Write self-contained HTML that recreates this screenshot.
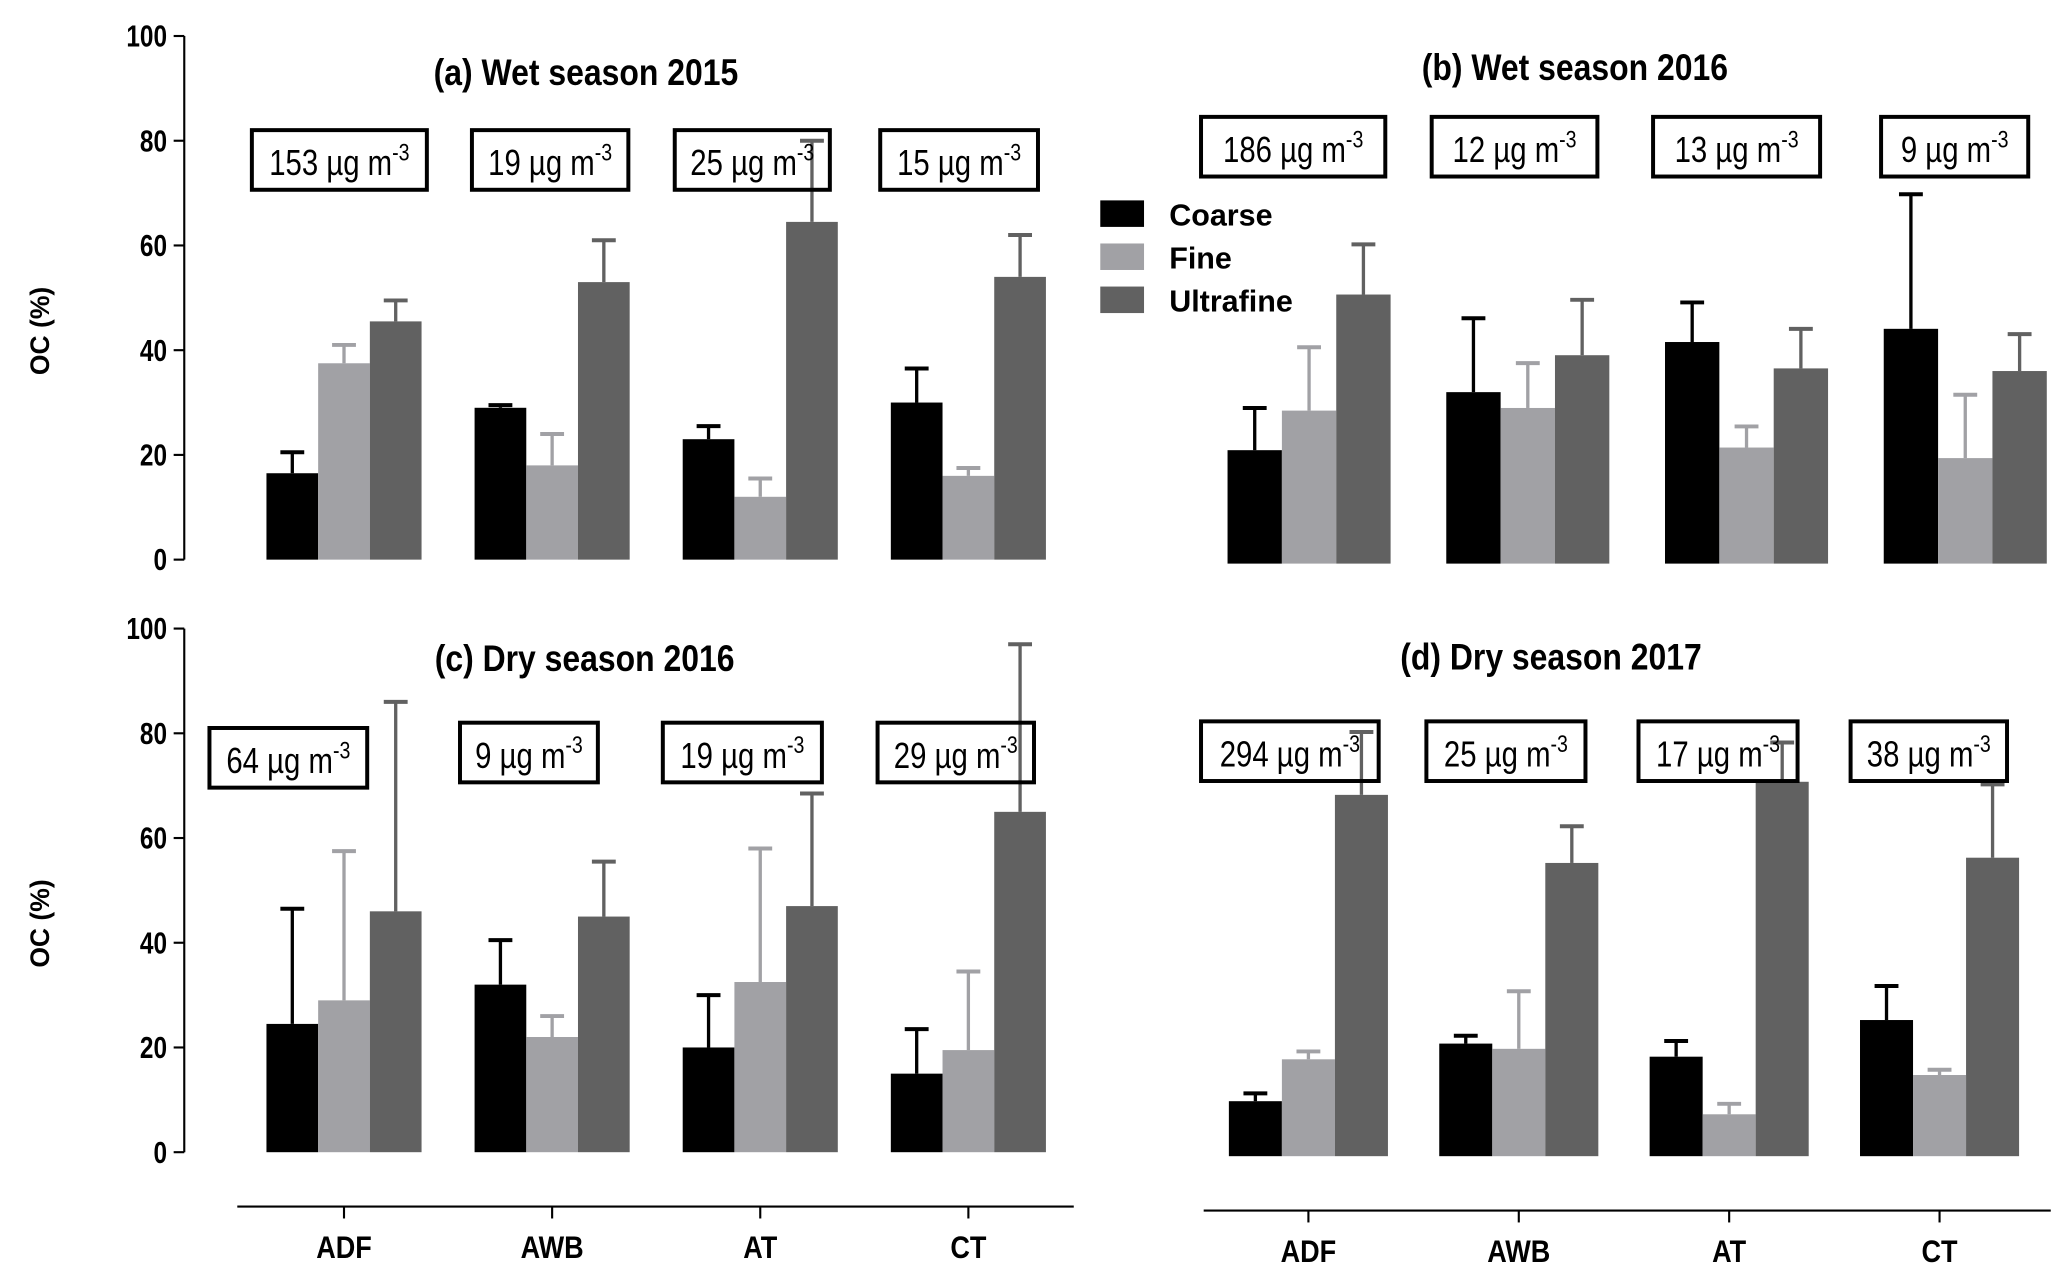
<!DOCTYPE html>
<html><head><meta charset="utf-8"><style>
html,body{margin:0;padding:0;background:#fff;}
svg{display:block;font-family:"Liberation Sans",Arial,sans-serif;}
</style></head><body>
<svg id="chart" width="2068" height="1281" viewBox="0 0 1560 966" xmlns="http://www.w3.org/2000/svg"></svg>
<script>
const categories = ["ADF","AWB","AT","CT"];
const seriesNames = ["Coarse","Fine","Ultrafine"];
const yTicks = [0,20,40,60,80,100];
// panel a: Wet season 2015
const aCoarse = [16.5,29,23,30];   const aCoarseErr = [20.5,29.5,25.5,36.5];
const aFine = [37.5,18,12,16];     const aFineErr = [41,24,15.5,17.5];
const aUltra = [45.5,53,64.5,54];  const aUltraErr = [49.5,61,80,62];
const aLabels = ["153","19","25","15"];
// panel b: Wet season 2016
const bCoarse = [21.5,32.5,42,44.5]; const bCoarseErr = [29.5,46.5,49.5,70];
const bFine = [29,29.5,22,20];       const bFineErr = [41,38,26,32];
const bUltra = [51,39.5,37,36.5];    const bUltraErr = [60.5,50,44.5,43.5];
const bLabels = ["186","12","13","9"];
// panel c: Dry season 2016
const cCoarse = [24.5,32,20,15];   const cCoarseErr = [46.5,40.5,30,23.5];
const cFine = [29,22,32.5,19.5];   const cFineErr = [57.5,26,58,34.5];
const cUltra = [46,45,47,65];      const cUltraErr = [86,55.5,68.5,97];
const cLabels = ["64","9","19","29"];
// panel d: Dry season 2017
const dCoarse = [10.5,21.5,19,26]; const dCoarseErr = [12,23,22,32.5];
const dFine = [18.5,20.5,8,15.5];  const dFineErr = [20,31.5,10,16.5];
const dUltra = [69,56,71.5,57];    const dUltraErr = [81,63,79,71];
const dLabels = ["294","25","17","38"];

const NS="http://www.w3.org/2000/svg";
const svg=document.getElementById('chart');
const colors=["#000000","#a1a1a5","#616161"];
function mk(tag,attrs,parent){const e=document.createElementNS(NS,tag);for(const k in attrs)e.setAttribute(k,attrs[k]);(parent||svg).appendChild(e);return e;}
function ntext(x,y,sx,attrs,parent){attrs.x=0;attrs.y=0;attrs.transform=`translate(${x},${y}) scale(${sx},1)`;return mk('text',attrs,parent);}

const panels=[
 {id:'a',title:'(a) Wet season 2015',tx:442,ty:64,y0:422,y100:27,x0:201,step:157,bw:39,vals:[aCoarse,aFine,aUltra],errs:[aCoarseErr,aFineErr,aUltraErr],labels:aLabels,
  boxes:[[190,98,132,45],[356,98,118,45],[509,98,117,45],[664,98,119,45]],axis:true,xaxis:null},
 {id:'b',title:'(b) Wet season  2016',tx:1188,ty:60,y0:425,y100:27,x0:926,step:165,bw:41,vals:[bCoarse,bFine,bUltra],errs:[bCoarseErr,bFineErr,bUltraErr],labels:bLabels,
  boxes:[[906,88,139,45],[1080,88,125,45],[1247,88,126,45],[1419,88,111,45]],axis:false,xaxis:null},
 {id:'c',title:'(c) Dry  season 2016',tx:441,ty:506,y0:869,y100:474,x0:201,step:157,bw:39,vals:[cCoarse,cFine,cUltra],errs:[cCoarseErr,cFineErr,cUltraErr],labels:cLabels,
  boxes:[[158,549,119,45],[347,545,104,45],[500,545,120,45],[662,545,118,45]],axis:true,xaxis:{y:910,x1:179,x2:810,ly:949}},
 {id:'d',title:'(d) Dry season  2017',tx:1170,ty:505,y0:872,y100:477,x0:927,step:158.7,bw:40,vals:[dCoarse,dFine,dUltra],errs:[dCoarseErr,dFineErr,dUltraErr],labels:dLabels,
  boxes:[[906,544,134,45],[1076,544,120,45],[1236,544,120,45],[1396,544,118,45]],axis:false,xaxis:{y:913,x1:908,x2:1547,ly:952}}
];

panels.forEach(p=>{
  const g=mk('g',{});
  
  
  const ys=v=>p.y0-(p.y0-p.y100)*v/100;
  const xs=(i,s)=>p.x0+i*p.step+s*p.bw;
  if(p.axis){
    const ax=mk('line',{x1:139,x2:139,y1:p.y100,y2:p.y0,stroke:'#000','stroke-width':1.6},g);
    
    
    yTicks.forEach(t=>{
      mk('line',{x1:131,x2:139,y1:ys(t),y2:ys(t),stroke:'#000','stroke-width':1.6},g);
      const tl=ntext(126,ys(t)+8,0.8,{'text-anchor':'end','font-size':23,'font-weight':'bold'},g);
      tl.textContent=t;
      
      
    });
    const yl=mk('text',{x:0,y:0,transform:`translate(37,${(p.y0+p.y100)/2+25}) rotate(-90)`,'text-anchor':'middle','font-size':20,'font-weight':'bold'},g);
    yl.textContent='OC  (%)';
    
    
  }
  categories.forEach((c,i)=>{
    for(let s=0;s<3;s++){
      const v=p.vals[s][i], e=p.errs[s][i];
      const cx=xs(i,s)+p.bw/2;
      const el=mk('line',{x1:cx,x2:cx,y1:ys(v),y2:ys(e),stroke:colors[s],'stroke-width':2.5},g);
      
      
      mk('line',{x1:cx-9,x2:cx+9,y1:ys(e),y2:ys(e),stroke:colors[s],'stroke-width':3},g);
      const r=mk('rect',{x:xs(i,s),y:ys(v),width:p.bw,height:p.y0-ys(v),fill:colors[s]},g);
      
      
    }
  });
  p.boxes.forEach((b,i)=>{
    const bg=mk('g',{},g);
    
    
    mk('rect',{x:b[0],y:b[1],width:b[2],height:b[3],fill:(p.id==='d'&&i===3)?'#fff':'none',stroke:'#000','stroke-width':3},bg);
    const t=ntext(b[0]+b[2]/2,b[1]+34,0.82,{'text-anchor':'middle','font-size':27},bg);
    t.innerHTML=p.labels[i]+' µg m<tspan dy="-11" font-size="18">-3</tspan>';
  });
  const tt=ntext(p.tx,p.ty,0.86,{'text-anchor':'middle','font-size':28,'font-weight':'bold'},g);
  tt.textContent=p.title;
  
  
  if(p.xaxis){
    const xa=mk('line',{x1:p.xaxis.x1,x2:p.xaxis.x2,y1:p.xaxis.y,y2:p.xaxis.y,stroke:'#000','stroke-width':1.6},g);
    
    
    categories.forEach((c,i)=>{
      const cx=xs(i,1.5);
      mk('line',{x1:cx,x2:cx,y1:p.xaxis.y,y2:p.xaxis.y+9,stroke:'#000','stroke-width':1.6},g);
      const l=ntext(cx,p.xaxis.ly,0.85,{'text-anchor':'middle','font-size':24,'font-weight':'bold'},g);
      l.textContent=c;
      
      
    });
  }
});
const lg=mk('g',{});


seriesNames.forEach((n,s)=>{
  const eg=mk('g',{},lg);
  
  
  mk('rect',{x:830,y:151+s*32.5,width:33,height:20,fill:colors[s]},eg);
  const t=mk('text',{x:882,y:170+s*32.5,'font-size':23,'font-weight':'bold'},eg);
  t.textContent=n;
});
</script>
</body></html>
